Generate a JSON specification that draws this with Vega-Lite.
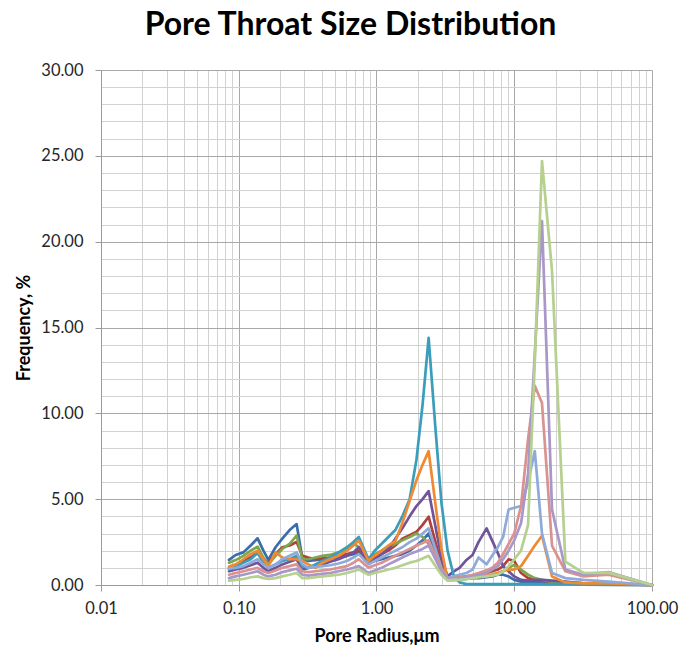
{
  "$schema": "https://vega.github.io/schema/vega-lite/v6.json",
  "width": 551,
  "height": 515,
  "autosize": "none",
  "padding": {"left": 101, "top": 70, "right": 30, "bottom": 62},
  "background": "white",
  "title": {"text": "Pore Throat Size Distribution", "font": "Lato", "fontSize": 32, "fontWeight": "bold", "color": "#000000", "anchor": "middle", "frame": "group", "dx": -26, "offset": 20},
  "config": {"view": {"stroke": null}, "font": "Lato"},
  "data": {"values": [
    {"x":0.085,"S01":1.46,"S02":1.0,"S03":1.3,"S04":0.8,"S05":0.9,"S06":1.07,"S07":0.95,"S08":0.6,"S09":0.4,"S10":0.25},
    {"x":0.095,"S01":1.75,"S02":1.15,"S03":1.45,"S04":0.9,"S05":1.1,"S06":1.2,"S07":1.0,"S08":0.7,"S09":0.5,"S10":0.3},
    {"x":0.108,"S01":1.9,"S02":1.4,"S03":1.7,"S04":1.0,"S05":1.3,"S06":1.5,"S07":1.1,"S08":0.8,"S09":0.6,"S10":0.35},
    {"x":0.122,"S01":2.3,"S02":1.6,"S03":2.0,"S04":1.15,"S05":1.5,"S06":1.8,"S07":1.3,"S08":0.9,"S09":0.7,"S10":0.45},
    {"x":0.137,"S01":2.72,"S02":1.9,"S03":2.23,"S04":1.3,"S05":1.86,"S06":2.0,"S07":1.5,"S08":1.0,"S09":0.8,"S10":0.5},
    {"x":0.151,"S01":2.0,"S02":1.5,"S03":1.6,"S04":1.0,"S05":1.3,"S06":1.5,"S07":1.2,"S08":0.8,"S09":0.6,"S10":0.4},
    {"x":0.164,"S01":1.46,"S02":1.3,"S03":1.2,"S04":0.8,"S05":1.0,"S06":1.1,"S07":1.0,"S08":0.7,"S09":0.5,"S10":0.35},
    {"x":0.185,"S01":2.2,"S02":1.8,"S03":1.7,"S04":1.0,"S05":1.2,"S06":1.9,"S07":1.2,"S08":0.85,"S09":0.6,"S10":0.4},
    {"x":0.207,"S01":2.7,"S02":2.2,"S03":2.1,"S04":1.2,"S05":1.4,"S06":1.6,"S07":1.5,"S08":1.0,"S09":0.75,"S10":0.5},
    {"x":0.234,"S01":3.2,"S02":2.3,"S03":2.4,"S04":1.35,"S05":1.5,"S06":1.5,"S07":1.7,"S08":1.1,"S09":0.85,"S10":0.6},
    {"x":0.263,"S01":3.55,"S02":2.5,"S03":2.87,"S04":1.5,"S05":1.7,"S06":1.5,"S07":1.9,"S08":1.2,"S09":0.95,"S10":0.7},
    {"x":0.29,"S01":1.5,"S02":1.7,"S03":1.5,"S04":0.9,"S05":1.1,"S06":1.4,"S07":1.2,"S08":0.8,"S09":0.6,"S10":0.4},
    {"x":0.32,"S01":1.4,"S02":1.6,"S03":1.5,"S04":1.0,"S05":1.0,"S06":1.2,"S07":1.0,"S08":0.75,"S09":0.55,"S10":0.4},
    {"x":0.36,"S01":1.45,"S02":1.5,"S03":1.6,"S04":1.1,"S05":1.2,"S06":1.0,"S07":1.05,"S08":0.8,"S09":0.6,"S10":0.45},
    {"x":0.405,"S01":1.5,"S02":1.55,"S03":1.7,"S04":1.2,"S05":1.4,"S06":1.3,"S07":1.1,"S08":0.85,"S09":0.65,"S10":0.5},
    {"x":0.46,"S01":1.55,"S02":1.6,"S03":1.75,"S04":1.35,"S05":1.6,"S06":1.5,"S07":1.15,"S08":0.9,"S09":0.7,"S10":0.55},
    {"x":0.53,"S01":1.6,"S02":1.7,"S03":1.9,"S04":1.5,"S05":1.9,"S06":1.7,"S07":1.25,"S08":1.0,"S09":0.8,"S10":0.6},
    {"x":0.61,"S01":1.7,"S02":1.8,"S03":2.1,"S04":1.7,"S05":2.2,"S06":2.0,"S07":1.4,"S08":1.1,"S09":0.9,"S10":0.7},
    {"x":0.68,"S01":1.8,"S02":1.9,"S03":2.45,"S04":1.9,"S05":2.5,"S06":2.3,"S07":1.6,"S08":1.3,"S09":1.0,"S10":0.8},
    {"x":0.744,"S01":1.9,"S02":2.0,"S03":2.2,"S04":2.2,"S05":2.8,"S06":2.6,"S07":1.8,"S08":1.5,"S09":1.1,"S10":0.9},
    {"x":0.875,"S01":1.3,"S02":1.4,"S03":1.5,"S04":1.3,"S05":1.5,"S06":1.4,"S07":1.2,"S08":1.0,"S09":0.7,"S10":0.6},
    {"x":0.97,"S01":1.4,"S02":1.6,"S03":1.8,"S04":1.5,"S05":2.0,"S06":1.7,"S07":1.4,"S08":1.15,"S09":0.85,"S10":0.7},
    {"x":1.09,"S01":1.5,"S02":1.8,"S03":2.0,"S04":1.8,"S05":2.4,"S06":2.0,"S07":1.6,"S08":1.3,"S09":1.0,"S10":0.8},
    {"x":1.22,"S01":1.6,"S02":2.0,"S03":2.2,"S04":2.1,"S05":2.8,"S06":2.3,"S07":1.8,"S08":1.5,"S09":1.2,"S10":0.9},
    {"x":1.37,"S01":1.7,"S02":2.3,"S03":2.4,"S04":2.7,"S05":3.2,"S06":2.55,"S07":2.0,"S08":1.7,"S09":1.4,"S10":1.0},
    {"x":1.54,"S01":1.8,"S02":2.7,"S03":2.6,"S04":3.3,"S05":4.0,"S06":3.6,"S07":2.2,"S08":1.9,"S09":1.6,"S10":1.15},
    {"x":1.74,"S01":2.0,"S02":2.9,"S03":2.8,"S04":4.0,"S05":5.0,"S06":4.9,"S07":2.5,"S08":2.1,"S09":1.8,"S10":1.3},
    {"x":1.95,"S01":2.3,"S02":3.1,"S03":3.0,"S04":4.6,"S05":7.3,"S06":6.1,"S07":2.7,"S08":2.3,"S09":1.95,"S10":1.4},
    {"x":2.16,"S01":2.6,"S02":3.5,"S03":2.8,"S04":5.0,"S05":10.5,"S06":7.0,"S07":3.0,"S08":2.45,"S09":2.1,"S10":1.55},
    {"x":2.39,"S01":3.0,"S02":3.98,"S03":2.4,"S04":5.47,"S05":14.4,"S06":7.8,"S07":3.3,"S08":2.6,"S09":2.3,"S10":1.7},
    {"x":2.68,"S01":1.9,"S02":2.5,"S03":1.6,"S04":3.4,"S05":9.1,"S06":4.7,"S07":2.1,"S08":1.7,"S09":1.5,"S10":1.1},
    {"x":2.96,"S01":0.9,"S02":1.2,"S03":0.8,"S04":1.6,"S05":4.8,"S06":2.1,"S07":1.0,"S08":0.9,"S09":0.8,"S10":0.6},
    {"x":3.28,"S01":0.3,"S02":0.35,"S03":0.3,"S04":0.5,"S05":2.0,"S06":0.3,"S07":0.4,"S08":0.35,"S09":0.3,"S10":0.25},
    {"x":3.62,"S01":0.3,"S02":0.4,"S03":0.3,"S04":0.78,"S05":0.6,"S06":0.35,"S07":0.5,"S08":0.4,"S09":0.35,"S10":0.3},
    {"x":4.01,"S01":0.3,"S02":0.45,"S03":0.35,"S04":1.0,"S05":0.15,"S06":0.4,"S07":0.6,"S08":0.45,"S09":0.4,"S10":0.3},
    {"x":4.5,"S01":0.35,"S02":0.5,"S03":0.4,"S04":1.46,"S05":0.05,"S06":0.4,"S07":0.7,"S08":0.5,"S09":0.45,"S10":0.35},
    {"x":4.98,"S01":0.4,"S02":0.55,"S03":0.4,"S04":1.75,"S05":0.05,"S06":0.45,"S07":0.9,"S08":0.6,"S09":0.5,"S10":0.4},
    {"x":5.5,"S01":0.4,"S02":0.6,"S03":0.45,"S04":2.5,"S05":0.05,"S06":0.5,"S07":1.6,"S08":0.7,"S09":0.6,"S10":0.45},
    {"x":6.3,"S01":0.45,"S02":0.7,"S03":0.5,"S04":3.3,"S05":0.05,"S06":0.55,"S07":1.2,"S08":0.85,"S09":0.7,"S10":0.5},
    {"x":6.9,"S01":0.5,"S02":0.8,"S03":0.6,"S04":2.6,"S05":0.05,"S06":0.6,"S07":1.7,"S08":1.0,"S09":0.9,"S10":0.55},
    {"x":7.6,"S01":0.6,"S02":0.9,"S03":0.7,"S04":1.86,"S05":0.05,"S06":0.7,"S07":2.2,"S08":1.3,"S09":1.1,"S10":0.6},
    {"x":8.3,"S01":0.6,"S02":1.1,"S03":0.8,"S04":1.1,"S05":0.05,"S06":0.8,"S07":2.8,"S08":1.8,"S09":1.5,"S10":0.8},
    {"x":9.1,"S01":0.5,"S02":1.5,"S03":1.0,"S04":0.8,"S05":0.05,"S06":0.9,"S07":4.4,"S08":2.4,"S09":2.0,"S10":1.1},
    {"x":10.0,"S01":0.3,"S02":1.4,"S03":1.17,"S04":0.5,"S05":0.05,"S06":0.9,"S07":4.5,"S08":3.0,"S09":2.6,"S10":1.5},
    {"x":11.2,"S01":0.2,"S02":0.7,"S03":0.9,"S04":0.3,"S05":0.05,"S06":1.1,"S07":4.6,"S08":4.6,"S09":3.6,"S10":2.0},
    {"x":12.6,"S01":0.2,"S02":0.4,"S03":0.6,"S04":0.25,"S05":0.05,"S06":1.7,"S07":6.0,"S08":8.5,"S09":6.5,"S10":3.5},
    {"x":14.1,"S01":0.2,"S02":0.3,"S03":0.4,"S04":0.3,"S05":0.05,"S06":2.3,"S07":7.8,"S08":11.6,"S09":13.5,"S10":13.0},
    {"x":15.9,"S01":0.2,"S02":0.25,"S03":0.3,"S04":0.3,"S05":0.05,"S06":2.87,"S07":3.0,"S08":10.6,"S09":21.2,"S10":24.7},
    {"x":18.8,"S01":0.15,"S02":0.2,"S03":0.2,"S04":0.25,"S05":0.05,"S06":0.5,"S07":0.7,"S08":2.3,"S09":4.4,"S10":18.3},
    {"x":23.5,"S01":0.15,"S02":0.1,"S03":0.1,"S04":0.2,"S05":0.05,"S06":0.15,"S07":0.4,"S08":0.8,"S09":0.9,"S10":1.36},
    {"x":31.8,"S01":0.1,"S02":0.05,"S03":0.05,"S04":0.1,"S05":0.02,"S06":0.1,"S07":0.3,"S08":0.5,"S09":0.6,"S10":0.7},
    {"x":48.3,"S01":0.05,"S02":0.02,"S03":0.02,"S04":0.05,"S05":0.01,"S06":0.1,"S07":0.2,"S08":0.6,"S09":0.75,"S10":0.72},
    {"x":100,"S01":0,"S02":0,"S03":0,"S04":0,"S05":0,"S06":0,"S07":0,"S08":0,"S09":0,"S10":0}
  ]},
  "transform": [{"fold": ["S01","S02","S03","S04","S05","S06","S07","S08","S09","S10"], "as": ["series","freq"]}],
  "mark": {"type": "line", "strokeWidth": 2.7, "strokeJoin": "round", "strokeCap": "round"},
  "encoding": {
    "x": {
      "field": "x", "type": "quantitative",
      "scale": {"type": "log", "domain": [0.01, 100], "nice": false},
      "axis": {
        "title": "Pore Radius,μm",
        "titleFont": "Lato", "titleFontSize": 18, "titleFontWeight": "bold", "titleColor": "#000000", "titlePadding": 11,
        "values": [0.01,0.02,0.03,0.04,0.05,0.06,0.07,0.08,0.09,0.1,0.2,0.3,0.4,0.5,0.6,0.7,0.8,0.9,1,2,3,4,5,6,7,8,9,10,20,30,40,50,60,70,80,90,100],
        "labelExpr": "abs(log(datum.value)/LN10 - round(log(datum.value)/LN10)) < 0.001 ? format(datum.value, '.2f') : ''",
        "labelOverlap": false, "labelFlush": false, "labelBound": false,
        "labelFont": "Lato", "labelFontSize": 16.5, "labelColor": "#262626", "labelPadding": 9,
        "grid": true,
        "gridColor": {"condition": {"test": "abs(log(datum.value)/LN10 - round(log(datum.value)/LN10)) < 0.001", "value": "#A8A8A8"}, "value": "#D2D2D2"},
        "gridWidth": 1,
        "tickSize": 6, "tickColor": "#9A9A9A",
        "tickOpacity": {"condition": {"test": "abs(log(datum.value)/LN10 - round(log(datum.value)/LN10)) < 0.001", "value": 1}, "value": 0},
        "domainColor": "#9A9A9A"
      }
    },
    "y": {
      "field": "freq", "type": "quantitative",
      "scale": {"domain": [0, 30], "nice": false},
      "axis": {
        "title": "Frequency, %",
        "titleFont": "Lato", "titleFontSize": 18, "titleFontWeight": "bold", "titleColor": "#000000", "titlePadding": 7,
        "values": [0,1,2,3,4,5,6,7,8,9,10,11,12,13,14,15,16,17,18,19,20,21,22,23,24,25,26,27,28,29,30],
        "labelExpr": "datum.value % 5 === 0 ? format(datum.value, '.2f') : ''",
        "labelOverlap": false, "labelFlush": false, "labelBound": false,
        "labelFont": "Lato", "labelFontSize": 16.5, "labelColor": "#262626", "labelPadding": 12,
        "grid": true,
        "gridColor": {"condition": {"test": "datum.value % 5 === 0", "value": "#A8A8A8"}, "value": "#D2D2D2"},
        "gridWidth": 1,
        "tickSize": 6, "tickColor": "#9A9A9A",
        "tickOpacity": {"condition": {"test": "datum.value % 5 === 0", "value": 1}, "value": 0},
        "domainColor": "#9A9A9A"
      }
    },
    "color": {
      "field": "series", "type": "nominal",
      "scale": {"domain": ["S01","S02","S03","S04","S05","S06","S07","S08","S09","S10"],
                "range": ["#3C6DAA","#B0403D","#7EA64A","#71539A","#3A9EBB","#EF8A32","#8DAADA","#D9928F","#A897C7","#B5D08F"]},
      "legend": null
    }
  }
}
